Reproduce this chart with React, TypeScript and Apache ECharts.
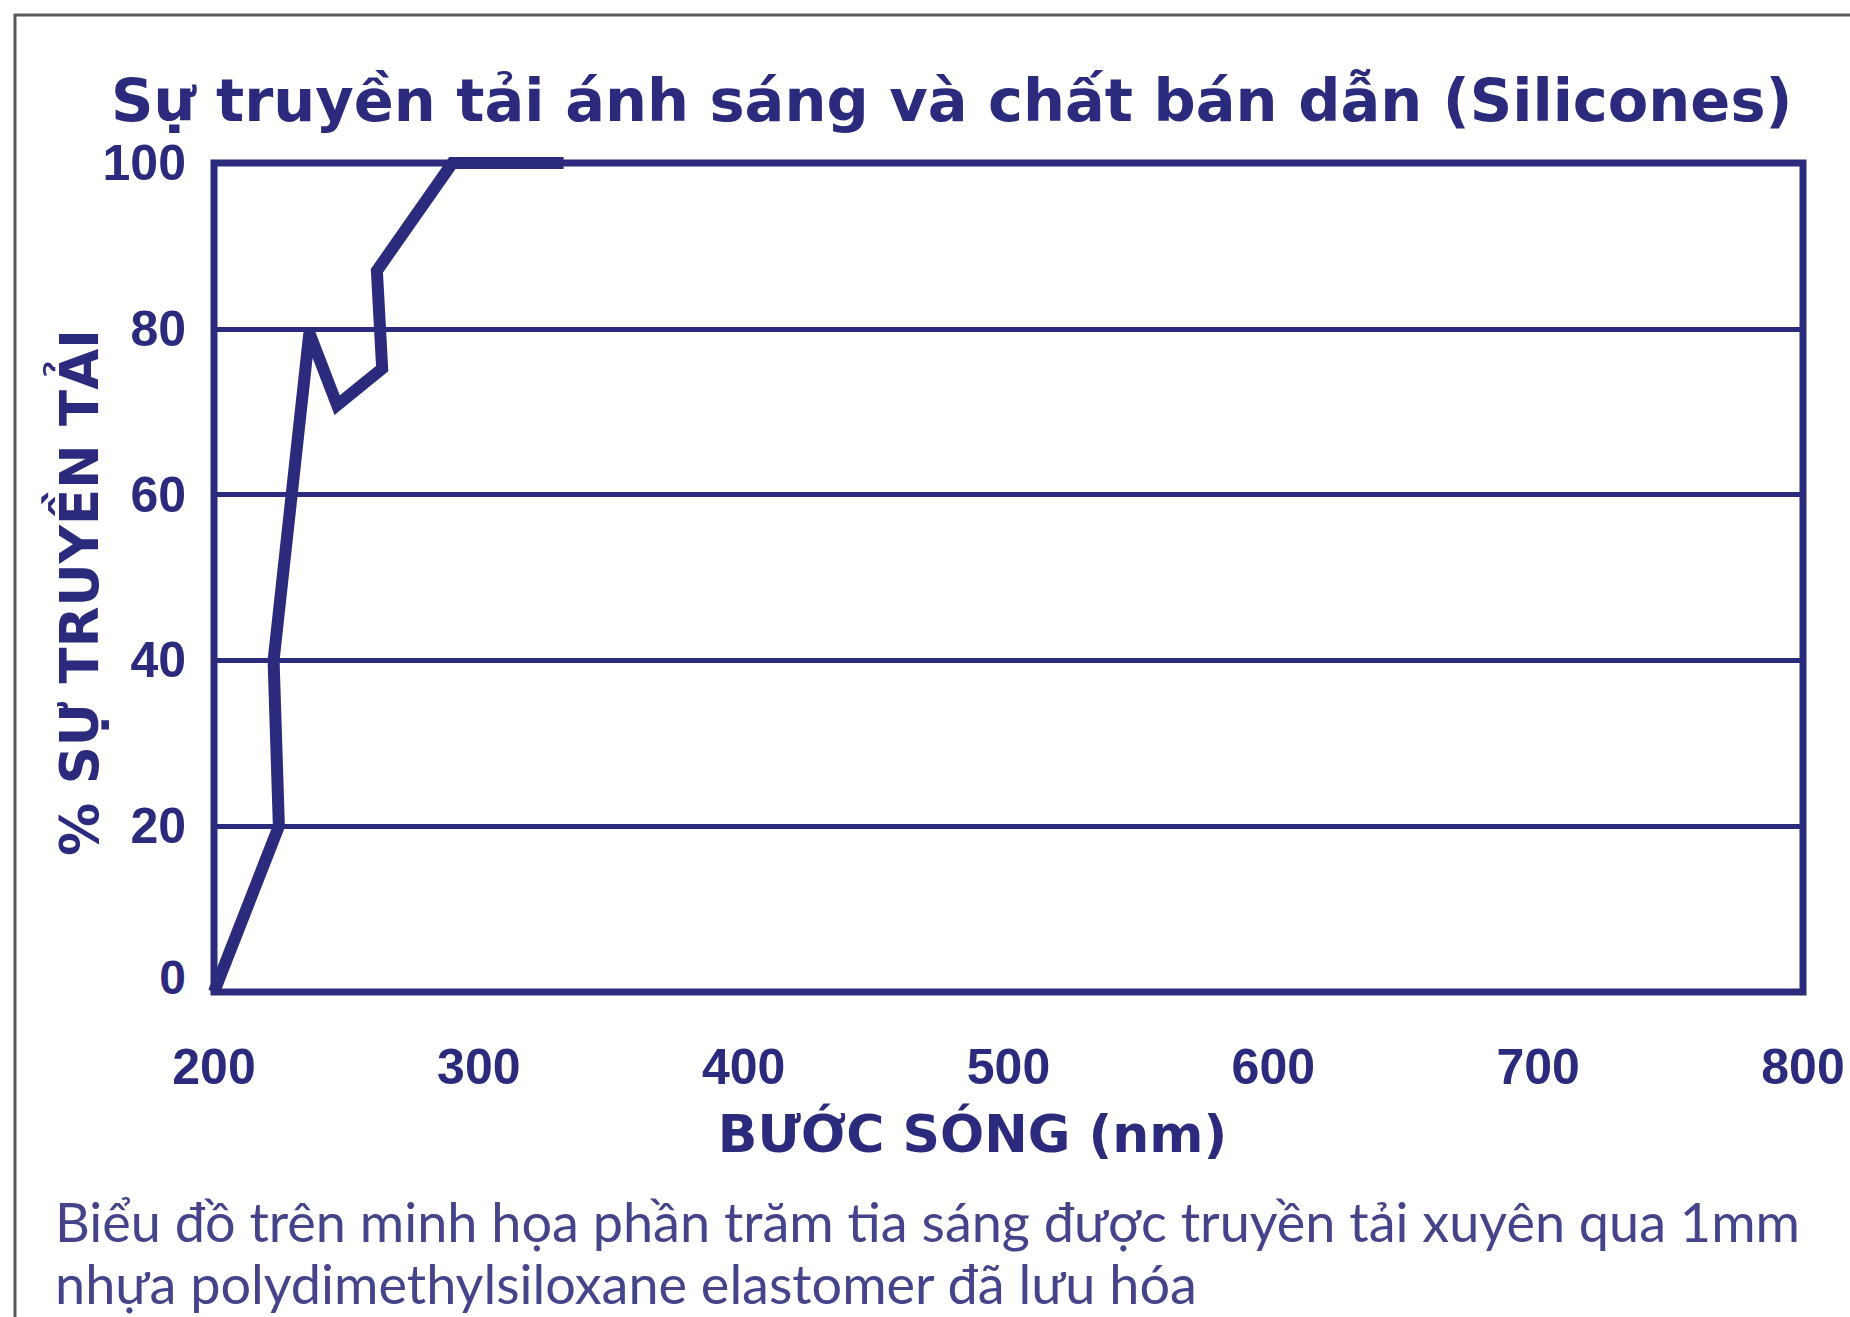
import React, { useEffect, useRef } from "react";
import * as echarts from "echarts";

const wavelengths = [200, 224.5, 222.5, 236, 246.5, 263.5, 261.5, 290, 332];
const transmission = [0, 20, 40, 79.5, 70.8, 75.2, 87, 100, 100];
const yTicks = [0, 20, 40, 60, 80, 100];
const xTicks = [200, 300, 400, 500, 600, 700, 800];

const TITLE = "Sự truyền tải ánh sáng và chất bán dẫn (Silicones)";
const Y_NAME = "% SỰ TRUYỀN TẢI";
const X_NAME = "BƯỚC SÓNG (nm)";
const CAPTION_LINES = [
  "Biểu đồ trên minh họa phần trăm tia sáng được truyền tải xuyên qua 1mm",
  "nhựa polydimethylsiloxane elastomer đã lưu hóa",
];

const NAVY = "#2b2a7c";

export default function App() {
  const ref = useRef<HTMLDivElement>(null);
  useEffect(() => {
    if (!ref.current) return;
    const chart = echarts.init(ref.current, undefined, { renderer: "svg" });
    const data = wavelengths.map((w, i) => [w, transmission[i]]);
    chart.setOption({
      animation: false,
      backgroundColor: "#ffffff",
      title: {
        text: TITLE,
        left: 106,
        top: 66,
        textStyle: {
          fontFamily: "DejaVu Sans",
          fontWeight: "bold",
          fontSize: 59,
          color: NAVY,
        },
      },
      grid: {
        left: 214,
        right: 47,
        top: 163,
        bottom: 325,
        show: true,
        borderColor: NAVY,
        borderWidth: 7,
        backgroundColor: "transparent",
      },
      xAxis: {
        type: "value",
        min: xTicks[0],
        max: xTicks[xTicks.length - 1],
        interval: 100,
        name: X_NAME,
        nameLocation: "middle",
        nameGap: 116,
        nameTextStyle: {
          fontFamily: "DejaVu Sans",
          fontWeight: "bold",
          fontSize: 52,
          color: NAVY,
          padding: [0, 72, 0, 0],
        },
        axisLine: { show: false },
        axisTick: { show: false },
        splitLine: { show: false },
        axisLabel: {
          margin: 50,
          fontFamily: "Liberation Sans",
          fontWeight: "bold",
          fontSize: 50,
          color: NAVY,
        },
      },
      yAxis: {
        type: "value",
        min: yTicks[0],
        max: yTicks[yTicks.length - 1],
        interval: 20,
        name: Y_NAME,
        nameLocation: "middle",
        nameRotate: 90,
        nameGap: 108,
        nameMoveOverlap: false,
        nameTextStyle: {
          fontFamily: "DejaVu Sans",
          fontWeight: "bold",
          fontSize: 53,
          color: NAVY,
          padding: [0, 30, 0, 0],
        },
        axisLine: { show: false },
        axisTick: { show: false },
        splitLine: { show: true, lineStyle: { color: NAVY, width: 5 } },
        axisLabel: {
          margin: 28,
          fontFamily: "Liberation Sans",
          fontWeight: "bold",
          fontSize: 50,
          color: NAVY,
          formatter: (v: number) => (v === 0 ? "{z|0}" : String(v)),
          rich: {
            z: {
              fontFamily: "Liberation Sans",
              fontWeight: "bold",
              fontSize: 48,
              color: NAVY,
              padding: [0, 0, 30, 0],
            },
          },
        },
      },
      series: [
        {
          type: "line",
          data,
          showSymbol: false,
          clip: false,
          lineStyle: { color: NAVY, width: 12, join: "miter", cap: "butt", miterLimit: 4 },
          z: 5,
        },
      ],
      graphic: [
        {
          type: "rect",
          shape: { x: 15, y: 15, width: 1900, height: 1400 },
          style: { fill: "none", stroke: "#5a5a5a", lineWidth: 3 },
          silent: true,
        },
        {
          type: "text",
          x: 55,
          y: 1252,
          style: {
            text: CAPTION_LINES.join("\n"),
            fontFamily: "Lato",
            fontSize: 54,
            lineHeight: 62,
            fill: "#45448a",
            verticalAlign: "middle",
          },
        },
      ],
    });
    return () => chart.dispose();
  }, []);
  return (
    <div
      ref={ref}
      style={{ position: "absolute", left: 0, top: 0, width: 1850, height: 1317 }}
    />
  );
}
